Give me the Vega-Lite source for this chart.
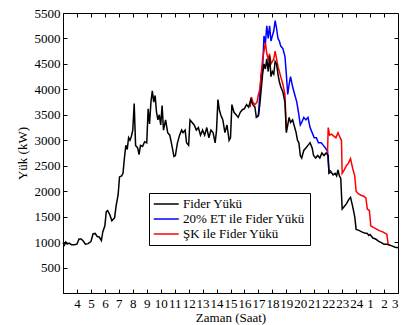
{
"$schema": "https://vega.github.io/schema/vega-lite/v6.json",
"width": 335,
"height": 280,
"autosize": "none",
"padding": {"left": 63, "top": 13, "right": 4, "bottom": 32},
"background": "white",
"config": {
  "view": {"stroke": "black", "strokeWidth": 1},
  "font": "Liberation Serif, Times New Roman, serif",
  "axis": {"labelFont": "Liberation Serif, Times New Roman, serif", "titleFont": "Liberation Serif, Times New Roman, serif", "labelFontSize": 13, "titleFontSize": 13, "labelColor": "black", "titleColor": "black", "domainColor": "black", "tickColor": "black", "grid": false, "titleFontWeight": "normal", "labelOverlap": false, "tickSize": -4, "format": "d"},
  "legend": {"labelFont": "Liberation Serif, Times New Roman, serif"}
},
"data": {"values": [
{"saat":3.0,"yuk":990,"seri":"Fider Yükü","parca":1},
{"saat":3.1,"yuk":940,"seri":"Fider Yükü","parca":1},
{"saat":3.2,"yuk":1000,"seri":"Fider Yükü","parca":1},
{"saat":3.3,"yuk":960,"seri":"Fider Yükü","parca":1},
{"saat":3.45,"yuk":980,"seri":"Fider Yükü","parca":1},
{"saat":3.6,"yuk":950,"seri":"Fider Yükü","parca":1},
{"saat":3.8,"yuk":950,"seri":"Fider Yükü","parca":1},
{"saat":4.0,"yuk":960,"seri":"Fider Yükü","parca":1},
{"saat":4.15,"yuk":1060,"seri":"Fider Yükü","parca":1},
{"saat":4.3,"yuk":1060,"seri":"Fider Yükü","parca":1},
{"saat":4.45,"yuk":1020,"seri":"Fider Yükü","parca":1},
{"saat":4.6,"yuk":960,"seri":"Fider Yükü","parca":1},
{"saat":4.8,"yuk":970,"seri":"Fider Yükü","parca":1},
{"saat":5.0,"yuk":1010,"seri":"Fider Yükü","parca":1},
{"saat":5.15,"yuk":1160,"seri":"Fider Yükü","parca":1},
{"saat":5.3,"yuk":1170,"seri":"Fider Yükü","parca":1},
{"saat":5.45,"yuk":1110,"seri":"Fider Yükü","parca":1},
{"saat":5.6,"yuk":1100,"seri":"Fider Yükü","parca":1},
{"saat":5.75,"yuk":1030,"seri":"Fider Yükü","parca":1},
{"saat":5.85,"yuk":1200,"seri":"Fider Yükü","parca":1},
{"saat":6.0,"yuk":1320,"seri":"Fider Yükü","parca":1},
{"saat":6.1,"yuk":1600,"seri":"Fider Yükü","parca":1},
{"saat":6.2,"yuk":1620,"seri":"Fider Yükü","parca":1},
{"saat":6.35,"yuk":1540,"seri":"Fider Yükü","parca":1},
{"saat":6.5,"yuk":1420,"seri":"Fider Yükü","parca":1},
{"saat":6.6,"yuk":1450,"seri":"Fider Yükü","parca":1},
{"saat":6.7,"yuk":1480,"seri":"Fider Yükü","parca":1},
{"saat":6.8,"yuk":1700,"seri":"Fider Yükü","parca":1},
{"saat":6.95,"yuk":1930,"seri":"Fider Yükü","parca":1},
{"saat":7.05,"yuk":2280,"seri":"Fider Yükü","parca":1},
{"saat":7.2,"yuk":2300,"seri":"Fider Yükü","parca":1},
{"saat":7.3,"yuk":2350,"seri":"Fider Yükü","parca":1},
{"saat":7.4,"yuk":2650,"seri":"Fider Yükü","parca":1},
{"saat":7.5,"yuk":2900,"seri":"Fider Yükü","parca":1},
{"saat":7.6,"yuk":2820,"seri":"Fider Yükü","parca":1},
{"saat":7.7,"yuk":3050,"seri":"Fider Yükü","parca":1},
{"saat":7.8,"yuk":3000,"seri":"Fider Yükü","parca":1},
{"saat":7.9,"yuk":3080,"seri":"Fider Yükü","parca":1},
{"saat":8.0,"yuk":3200,"seri":"Fider Yükü","parca":1},
{"saat":8.1,"yuk":3720,"seri":"Fider Yükü","parca":1},
{"saat":8.2,"yuk":2900,"seri":"Fider Yükü","parca":1},
{"saat":8.35,"yuk":2850,"seri":"Fider Yükü","parca":1},
{"saat":8.45,"yuk":2720,"seri":"Fider Yükü","parca":1},
{"saat":8.55,"yuk":2900,"seri":"Fider Yükü","parca":1},
{"saat":8.7,"yuk":2880,"seri":"Fider Yükü","parca":1},
{"saat":8.85,"yuk":2970,"seri":"Fider Yükü","parca":1},
{"saat":9.0,"yuk":2950,"seri":"Fider Yükü","parca":1},
{"saat":9.1,"yuk":3620,"seri":"Fider Yükü","parca":1},
{"saat":9.2,"yuk":3320,"seri":"Fider Yükü","parca":1},
{"saat":9.3,"yuk":3750,"seri":"Fider Yükü","parca":1},
{"saat":9.4,"yuk":3970,"seri":"Fider Yükü","parca":1},
{"saat":9.5,"yuk":3750,"seri":"Fider Yükü","parca":1},
{"saat":9.6,"yuk":3880,"seri":"Fider Yükü","parca":1},
{"saat":9.7,"yuk":3550,"seri":"Fider Yükü","parca":1},
{"saat":9.8,"yuk":3400,"seri":"Fider Yükü","parca":1},
{"saat":9.9,"yuk":3500,"seri":"Fider Yükü","parca":1},
{"saat":10.0,"yuk":3300,"seri":"Fider Yükü","parca":1},
{"saat":10.1,"yuk":3680,"seri":"Fider Yükü","parca":1},
{"saat":10.2,"yuk":3200,"seri":"Fider Yükü","parca":1},
{"saat":10.35,"yuk":3400,"seri":"Fider Yükü","parca":1},
{"saat":10.5,"yuk":3150,"seri":"Fider Yükü","parca":1},
{"saat":10.65,"yuk":3100,"seri":"Fider Yükü","parca":1},
{"saat":10.8,"yuk":2900,"seri":"Fider Yükü","parca":1},
{"saat":10.95,"yuk":2680,"seri":"Fider Yükü","parca":1},
{"saat":11.05,"yuk":2700,"seri":"Fider Yükü","parca":1},
{"saat":11.2,"yuk":2950,"seri":"Fider Yükü","parca":1},
{"saat":11.35,"yuk":3100,"seri":"Fider Yükü","parca":1},
{"saat":11.5,"yuk":3200,"seri":"Fider Yükü","parca":1},
{"saat":11.6,"yuk":3150,"seri":"Fider Yükü","parca":1},
{"saat":11.75,"yuk":3200,"seri":"Fider Yükü","parca":1},
{"saat":11.85,"yuk":2950,"seri":"Fider Yükü","parca":1},
{"saat":12.0,"yuk":2900,"seri":"Fider Yükü","parca":1},
{"saat":12.1,"yuk":3400,"seri":"Fider Yükü","parca":1},
{"saat":12.25,"yuk":3350,"seri":"Fider Yükü","parca":1},
{"saat":12.4,"yuk":3300,"seri":"Fider Yükü","parca":1},
{"saat":12.55,"yuk":3200,"seri":"Fider Yükü","parca":1},
{"saat":12.7,"yuk":3250,"seri":"Fider Yükü","parca":1},
{"saat":12.85,"yuk":3100,"seri":"Fider Yükü","parca":1},
{"saat":13.0,"yuk":3200,"seri":"Fider Yükü","parca":1},
{"saat":13.15,"yuk":3100,"seri":"Fider Yükü","parca":1},
{"saat":13.3,"yuk":3250,"seri":"Fider Yükü","parca":1},
{"saat":13.45,"yuk":3050,"seri":"Fider Yükü","parca":1},
{"saat":13.6,"yuk":3200,"seri":"Fider Yükü","parca":1},
{"saat":13.75,"yuk":3150,"seri":"Fider Yükü","parca":1},
{"saat":13.9,"yuk":2950,"seri":"Fider Yükü","parca":1},
{"saat":14.0,"yuk":3200,"seri":"Fider Yükü","parca":1},
{"saat":14.1,"yuk":3800,"seri":"Fider Yükü","parca":1},
{"saat":14.2,"yuk":3600,"seri":"Fider Yükü","parca":1},
{"saat":14.3,"yuk":3500,"seri":"Fider Yükü","parca":1},
{"saat":14.45,"yuk":3400,"seri":"Fider Yükü","parca":1},
{"saat":14.6,"yuk":3150,"seri":"Fider Yükü","parca":1},
{"saat":14.75,"yuk":3300,"seri":"Fider Yükü","parca":1},
{"saat":14.9,"yuk":3000,"seri":"Fider Yükü","parca":1},
{"saat":15.0,"yuk":3050,"seri":"Fider Yükü","parca":1},
{"saat":15.1,"yuk":3700,"seri":"Fider Yükü","parca":1},
{"saat":15.25,"yuk":3550,"seri":"Fider Yükü","parca":1},
{"saat":15.4,"yuk":3500,"seri":"Fider Yükü","parca":1},
{"saat":15.55,"yuk":3450,"seri":"Fider Yükü","parca":1},
{"saat":15.7,"yuk":3550,"seri":"Fider Yükü","parca":1},
{"saat":15.85,"yuk":3600,"seri":"Fider Yükü","parca":1},
{"saat":16.0,"yuk":3620,"seri":"Fider Yükü","parca":1},
{"saat":16.15,"yuk":3700,"seri":"Fider Yükü","parca":1},
{"saat":16.3,"yuk":3650,"seri":"Fider Yükü","parca":1},
{"saat":16.45,"yuk":3800,"seri":"Fider Yükü","parca":1},
{"saat":16.6,"yuk":3700,"seri":"Fider Yükü","parca":1},
{"saat":16.75,"yuk":3650,"seri":"Fider Yükü","parca":1},
{"saat":16.85,"yuk":3450,"seri":"Fider Yükü","parca":1},
{"saat":17.0,"yuk":3480,"seri":"Fider Yükü","parca":1},
{"saat":17.1,"yuk":3700,"seri":"Fider Yükü","parca":1},
{"saat":17.2,"yuk":4000,"seri":"Fider Yükü","parca":1},
{"saat":17.3,"yuk":4300,"seri":"Fider Yükü","parca":1},
{"saat":17.4,"yuk":4500,"seri":"Fider Yükü","parca":1},
{"saat":17.5,"yuk":4400,"seri":"Fider Yükü","parca":1},
{"saat":17.6,"yuk":4600,"seri":"Fider Yükü","parca":1},
{"saat":17.7,"yuk":4350,"seri":"Fider Yükü","parca":1},
{"saat":17.8,"yuk":4650,"seri":"Fider Yükü","parca":1},
{"saat":17.9,"yuk":4250,"seri":"Fider Yükü","parca":1},
{"saat":18.0,"yuk":4350,"seri":"Fider Yükü","parca":1},
{"saat":18.1,"yuk":4300,"seri":"Fider Yükü","parca":1},
{"saat":18.2,"yuk":4550,"seri":"Fider Yükü","parca":1},
{"saat":18.3,"yuk":4500,"seri":"Fider Yükü","parca":1},
{"saat":18.4,"yuk":4300,"seri":"Fider Yükü","parca":1},
{"saat":18.5,"yuk":4150,"seri":"Fider Yükü","parca":1},
{"saat":18.6,"yuk":4050,"seri":"Fider Yükü","parca":1},
{"saat":18.75,"yuk":3950,"seri":"Fider Yükü","parca":1},
{"saat":18.9,"yuk":3750,"seri":"Fider Yükü","parca":1},
{"saat":19.0,"yuk":3150,"seri":"Fider Yükü","parca":1},
{"saat":19.1,"yuk":3300,"seri":"Fider Yükü","parca":1},
{"saat":19.2,"yuk":3450,"seri":"Fider Yükü","parca":1},
{"saat":19.3,"yuk":3350,"seri":"Fider Yükü","parca":1},
{"saat":19.45,"yuk":3400,"seri":"Fider Yükü","parca":1},
{"saat":19.6,"yuk":3250,"seri":"Fider Yükü","parca":1},
{"saat":19.7,"yuk":3150,"seri":"Fider Yükü","parca":1},
{"saat":19.8,"yuk":3000,"seri":"Fider Yükü","parca":1},
{"saat":19.9,"yuk":2950,"seri":"Fider Yükü","parca":1},
{"saat":20.0,"yuk":2700,"seri":"Fider Yükü","parca":1},
{"saat":20.1,"yuk":2650,"seri":"Fider Yükü","parca":1},
{"saat":20.25,"yuk":2800,"seri":"Fider Yükü","parca":1},
{"saat":20.4,"yuk":2850,"seri":"Fider Yükü","parca":1},
{"saat":20.55,"yuk":2900,"seri":"Fider Yükü","parca":1},
{"saat":20.7,"yuk":2950,"seri":"Fider Yükü","parca":1},
{"saat":20.85,"yuk":2850,"seri":"Fider Yükü","parca":1},
{"saat":20.95,"yuk":2700,"seri":"Fider Yükü","parca":1},
{"saat":21.1,"yuk":2650,"seri":"Fider Yükü","parca":1},
{"saat":21.25,"yuk":2700,"seri":"Fider Yükü","parca":1},
{"saat":21.4,"yuk":2650,"seri":"Fider Yükü","parca":1},
{"saat":21.55,"yuk":2750,"seri":"Fider Yükü","parca":1},
{"saat":21.7,"yuk":2700,"seri":"Fider Yükü","parca":1},
{"saat":21.85,"yuk":2750,"seri":"Fider Yükü","parca":1},
{"saat":22.0,"yuk":2700,"seri":"Fider Yükü","parca":1},
{"saat":22.05,"yuk":2350,"seri":"Fider Yükü","parca":1},
{"saat":22.2,"yuk":2380,"seri":"Fider Yükü","parca":1},
{"saat":22.35,"yuk":2320,"seri":"Fider Yükü","parca":1},
{"saat":22.5,"yuk":2350,"seri":"Fider Yükü","parca":1},
{"saat":22.6,"yuk":2300,"seri":"Fider Yükü","parca":1},
{"saat":22.7,"yuk":2420,"seri":"Fider Yükü","parca":1},
{"saat":22.8,"yuk":2300,"seri":"Fider Yükü","parca":1},
{"saat":22.9,"yuk":2250,"seri":"Fider Yükü","parca":1},
{"saat":23.0,"yuk":1650,"seri":"Fider Yükü","parca":1},
{"saat":23.15,"yuk":1700,"seri":"Fider Yükü","parca":1},
{"saat":23.3,"yuk":1750,"seri":"Fider Yükü","parca":1},
{"saat":23.5,"yuk":1850,"seri":"Fider Yükü","parca":1},
{"saat":23.6,"yuk":1880,"seri":"Fider Yükü","parca":1},
{"saat":23.75,"yuk":1700,"seri":"Fider Yükü","parca":1},
{"saat":23.9,"yuk":1500,"seri":"Fider Yükü","parca":1},
{"saat":24.0,"yuk":1250,"seri":"Fider Yükü","parca":1},
{"saat":24.2,"yuk":1230,"seri":"Fider Yükü","parca":1},
{"saat":24.4,"yuk":1200,"seri":"Fider Yükü","parca":1},
{"saat":24.6,"yuk":1180,"seri":"Fider Yükü","parca":1},
{"saat":24.8,"yuk":1170,"seri":"Fider Yükü","parca":1},
{"saat":24.9,"yuk":1130,"seri":"Fider Yükü","parca":1},
{"saat":25.0,"yuk":1150,"seri":"Fider Yükü","parca":1},
{"saat":25.2,"yuk":1080,"seri":"Fider Yükü","parca":1},
{"saat":25.4,"yuk":1060,"seri":"Fider Yükü","parca":1},
{"saat":25.6,"yuk":1020,"seri":"Fider Yükü","parca":1},
{"saat":25.8,"yuk":990,"seri":"Fider Yükü","parca":1},
{"saat":26.0,"yuk":960,"seri":"Fider Yükü","parca":1},
{"saat":26.2,"yuk":960,"seri":"Fider Yükü","parca":1},
{"saat":26.4,"yuk":940,"seri":"Fider Yükü","parca":1},
{"saat":26.6,"yuk":920,"seri":"Fider Yükü","parca":1},
{"saat":26.8,"yuk":900,"seri":"Fider Yükü","parca":1},
{"saat":27.0,"yuk":890,"seri":"Fider Yükü","parca":1},
{"saat":16.9,"yuk":3460,"seri":"20% ET ile Fider Yükü","parca":1},
{"saat":17.0,"yuk":3500,"seri":"20% ET ile Fider Yükü","parca":1},
{"saat":17.1,"yuk":3900,"seri":"20% ET ile Fider Yükü","parca":1},
{"saat":17.2,"yuk":4300,"seri":"20% ET ile Fider Yükü","parca":1},
{"saat":17.3,"yuk":4400,"seri":"20% ET ile Fider Yükü","parca":1},
{"saat":17.4,"yuk":5050,"seri":"20% ET ile Fider Yükü","parca":1},
{"saat":17.5,"yuk":4900,"seri":"20% ET ile Fider Yükü","parca":1},
{"saat":17.6,"yuk":5250,"seri":"20% ET ile Fider Yükü","parca":1},
{"saat":17.7,"yuk":5000,"seri":"20% ET ile Fider Yükü","parca":1},
{"saat":17.8,"yuk":5250,"seri":"20% ET ile Fider Yükü","parca":1},
{"saat":17.9,"yuk":4950,"seri":"20% ET ile Fider Yükü","parca":1},
{"saat":18.0,"yuk":5050,"seri":"20% ET ile Fider Yükü","parca":1},
{"saat":18.1,"yuk":5150,"seri":"20% ET ile Fider Yükü","parca":1},
{"saat":18.2,"yuk":5350,"seri":"20% ET ile Fider Yükü","parca":1},
{"saat":18.3,"yuk":5200,"seri":"20% ET ile Fider Yükü","parca":1},
{"saat":18.4,"yuk":5000,"seri":"20% ET ile Fider Yükü","parca":1},
{"saat":18.5,"yuk":4950,"seri":"20% ET ile Fider Yükü","parca":1},
{"saat":18.6,"yuk":4850,"seri":"20% ET ile Fider Yükü","parca":1},
{"saat":18.75,"yuk":4800,"seri":"20% ET ile Fider Yükü","parca":1},
{"saat":18.9,"yuk":4650,"seri":"20% ET ile Fider Yükü","parca":1},
{"saat":19.0,"yuk":4300,"seri":"20% ET ile Fider Yükü","parca":1},
{"saat":19.1,"yuk":3900,"seri":"20% ET ile Fider Yükü","parca":1},
{"saat":19.2,"yuk":4100,"seri":"20% ET ile Fider Yükü","parca":1},
{"saat":19.3,"yuk":4250,"seri":"20% ET ile Fider Yükü","parca":1},
{"saat":19.45,"yuk":4050,"seri":"20% ET ile Fider Yükü","parca":1},
{"saat":19.6,"yuk":3900,"seri":"20% ET ile Fider Yükü","parca":1},
{"saat":19.75,"yuk":3750,"seri":"20% ET ile Fider Yükü","parca":1},
{"saat":19.9,"yuk":3500,"seri":"20% ET ile Fider Yükü","parca":1},
{"saat":20.0,"yuk":3300,"seri":"20% ET ile Fider Yükü","parca":1},
{"saat":20.1,"yuk":3350,"seri":"20% ET ile Fider Yükü","parca":1},
{"saat":20.25,"yuk":3450,"seri":"20% ET ile Fider Yükü","parca":1},
{"saat":20.4,"yuk":3400,"seri":"20% ET ile Fider Yükü","parca":1},
{"saat":20.55,"yuk":3450,"seri":"20% ET ile Fider Yükü","parca":1},
{"saat":20.7,"yuk":3250,"seri":"20% ET ile Fider Yükü","parca":1},
{"saat":20.85,"yuk":3150,"seri":"20% ET ile Fider Yükü","parca":1},
{"saat":21.0,"yuk":3050,"seri":"20% ET ile Fider Yükü","parca":1},
{"saat":21.15,"yuk":3050,"seri":"20% ET ile Fider Yükü","parca":1},
{"saat":21.3,"yuk":2950,"seri":"20% ET ile Fider Yükü","parca":1},
{"saat":21.5,"yuk":2950,"seri":"20% ET ile Fider Yükü","parca":1},
{"saat":21.65,"yuk":2900,"seri":"20% ET ile Fider Yükü","parca":1},
{"saat":21.8,"yuk":2850,"seri":"20% ET ile Fider Yükü","parca":1},
{"saat":21.95,"yuk":2780,"seri":"20% ET ile Fider Yükü","parca":1},
{"saat":22.05,"yuk":2400,"seri":"20% ET ile Fider Yükü","parca":1},
{"saat":22.2,"yuk":2400,"seri":"20% ET ile Fider Yükü","parca":1},
{"saat":16.4,"yuk":3650,"seri":"ŞK ile Fider Yükü","parca":1},
{"saat":16.5,"yuk":3850,"seri":"ŞK ile Fider Yükü","parca":1},
{"saat":16.6,"yuk":3750,"seri":"ŞK ile Fider Yükü","parca":1},
{"saat":16.75,"yuk":3700,"seri":"ŞK ile Fider Yükü","parca":1},
{"saat":16.9,"yuk":3750,"seri":"ŞK ile Fider Yükü","parca":1},
{"saat":17.0,"yuk":3900,"seri":"ŞK ile Fider Yükü","parca":1},
{"saat":17.1,"yuk":4000,"seri":"ŞK ile Fider Yükü","parca":1},
{"saat":17.2,"yuk":4300,"seri":"ŞK ile Fider Yükü","parca":1},
{"saat":17.3,"yuk":4600,"seri":"ŞK ile Fider Yükü","parca":1},
{"saat":17.4,"yuk":4750,"seri":"ŞK ile Fider Yükü","parca":1},
{"saat":17.5,"yuk":4920,"seri":"ŞK ile Fider Yükü","parca":1},
{"saat":17.6,"yuk":4700,"seri":"ŞK ile Fider Yükü","parca":1},
{"saat":17.7,"yuk":4600,"seri":"ŞK ile Fider Yükü","parca":1},
{"saat":17.8,"yuk":4700,"seri":"ŞK ile Fider Yükü","parca":1},
{"saat":17.9,"yuk":4500,"seri":"ŞK ile Fider Yükü","parca":1},
{"saat":18.0,"yuk":4550,"seri":"ŞK ile Fider Yükü","parca":1},
{"saat":18.1,"yuk":4600,"seri":"ŞK ile Fider Yükü","parca":1},
{"saat":18.2,"yuk":4750,"seri":"ŞK ile Fider Yükü","parca":1},
{"saat":18.3,"yuk":4600,"seri":"ŞK ile Fider Yükü","parca":1},
{"saat":18.4,"yuk":4450,"seri":"ŞK ile Fider Yükü","parca":1},
{"saat":18.5,"yuk":4350,"seri":"ŞK ile Fider Yükü","parca":1},
{"saat":18.6,"yuk":4250,"seri":"ŞK ile Fider Yükü","parca":1},
{"saat":18.75,"yuk":4100,"seri":"ŞK ile Fider Yükü","parca":1},
{"saat":18.9,"yuk":3900,"seri":"ŞK ile Fider Yükü","parca":1},
{"saat":19.0,"yuk":3200,"seri":"ŞK ile Fider Yükü","parca":1},
{"saat":21.95,"yuk":2750,"seri":"ŞK ile Fider Yükü","parca":2},
{"saat":22.0,"yuk":3250,"seri":"ŞK ile Fider Yükü","parca":2},
{"saat":22.1,"yuk":3100,"seri":"ŞK ile Fider Yükü","parca":2},
{"saat":22.25,"yuk":3120,"seri":"ŞK ile Fider Yükü","parca":2},
{"saat":22.4,"yuk":3080,"seri":"ŞK ile Fider Yükü","parca":2},
{"saat":22.55,"yuk":3050,"seri":"ŞK ile Fider Yükü","parca":2},
{"saat":22.7,"yuk":3150,"seri":"ŞK ile Fider Yükü","parca":2},
{"saat":22.85,"yuk":3050,"seri":"ŞK ile Fider Yükü","parca":2},
{"saat":22.95,"yuk":3000,"seri":"ŞK ile Fider Yükü","parca":2},
{"saat":23.0,"yuk":2350,"seri":"ŞK ile Fider Yükü","parca":2},
{"saat":23.15,"yuk":2420,"seri":"ŞK ile Fider Yükü","parca":2},
{"saat":23.3,"yuk":2500,"seri":"ŞK ile Fider Yükü","parca":2},
{"saat":23.45,"yuk":2550,"seri":"ŞK ile Fider Yükü","parca":2},
{"saat":23.6,"yuk":2640,"seri":"ŞK ile Fider Yükü","parca":2},
{"saat":23.75,"yuk":2450,"seri":"ŞK ile Fider Yükü","parca":2},
{"saat":23.9,"yuk":2300,"seri":"ŞK ile Fider Yükü","parca":2},
{"saat":24.0,"yuk":2000,"seri":"ŞK ile Fider Yükü","parca":2},
{"saat":24.15,"yuk":1950,"seri":"ŞK ile Fider Yükü","parca":2},
{"saat":24.35,"yuk":1920,"seri":"ŞK ile Fider Yükü","parca":2},
{"saat":24.55,"yuk":1900,"seri":"ŞK ile Fider Yükü","parca":2},
{"saat":24.7,"yuk":1870,"seri":"ŞK ile Fider Yükü","parca":2},
{"saat":24.8,"yuk":1650,"seri":"ŞK ile Fider Yükü","parca":2},
{"saat":24.95,"yuk":1620,"seri":"ŞK ile Fider Yükü","parca":2},
{"saat":25.05,"yuk":1320,"seri":"ŞK ile Fider Yükü","parca":2},
{"saat":25.3,"yuk":1280,"seri":"ŞK ile Fider Yükü","parca":2},
{"saat":25.5,"yuk":1250,"seri":"ŞK ile Fider Yükü","parca":2},
{"saat":25.7,"yuk":1220,"seri":"ŞK ile Fider Yükü","parca":2},
{"saat":25.9,"yuk":1200,"seri":"ŞK ile Fider Yükü","parca":2},
{"saat":26.1,"yuk":1170,"seri":"ŞK ile Fider Yükü","parca":2},
{"saat":26.2,"yuk":1150,"seri":"ŞK ile Fider Yükü","parca":2},
{"saat":26.3,"yuk":950,"seri":"ŞK ile Fider Yükü","parca":2},
{"saat":26.45,"yuk":940,"seri":"ŞK ile Fider Yükü","parca":2}
]},
"layer": [
  {
    "transform": [{"filter": "datum.seri == '20% ET ile Fider Yükü'"}],
    "mark": {"type": "line", "strokeWidth": 1.5},
    "encoding": {
      "x": {"field": "saat", "type": "quantitative", "axis": null},
      "y": {"field": "yuk", "type": "quantitative", "axis": null},
      "color": {"field": "seri", "type": "nominal"}
    }
  },
  {
    "transform": [{"filter": "datum.seri == 'ŞK ile Fider Yükü'"}],
    "mark": {"type": "line", "strokeWidth": 1.5},
    "encoding": {
      "x": {"field": "saat", "type": "quantitative", "axis": null},
      "y": {"field": "yuk", "type": "quantitative", "axis": null},
      "color": {"field": "seri", "type": "nominal"},
      "detail": {"field": "parca", "type": "nominal"}
    }
  },
  {
    "transform": [{"filter": "datum.seri == 'Fider Yükü'"}],
    "mark": {"type": "line", "strokeWidth": 1.5},
    "encoding": {
      "x": {"field": "saat", "type": "quantitative",
        "scale": {"domain": [3, 27], "nice": false},
        "axis": {"orient": "bottom", "title": "Zaman (Saat)", "values": [4,5,6,7,8,9,10,11,12,13,14,15,16,17,18,19,20,21,22,23,24,25,26,27], "labelExpr": "datum.value > 24 ? datum.value - 24 : datum.value", "labelPadding": 8, "titlePadding": 1}},
      "y": {"field": "yuk", "type": "quantitative",
        "scale": {"domain": [500, 5500], "nice": false},
        "axis": {"orient": "left", "title": "Yük (kW)", "values": [500,1000,1500,2000,2500,3000,3500,4000,4500,5000,5500], "labelPadding": 7, "titlePadding": 5}},
      "color": {"field": "seri", "type": "nominal",
        "scale": {"domain": ["Fider Yükü", "20% ET ile Fider Yükü", "ŞK ile Fider Yükü"], "range": ["#000000", "#0000ff", "#ff0000"]},
        "legend": {"title": null, "orient": "none", "legendX": 86, "legendY": 180, "symbolType": "M-1,0H3", "symbolSize": 156, "symbolStrokeWidth": 1.5, "labelFont": "Liberation Serif, Times New Roman, serif", "labelFontSize": 13, "labelColor": "black", "labelLimit": 300, "strokeColor": "black", "fillColor": "white", "padding": 4, "rowPadding": 1, "labelOffset": 16}}
    }
  },
  {
    "transform": [{"filter": "datum.seri == 'Fider Yükü'"}],
    "mark": {"type": "line", "opacity": 0},
    "encoding": {
      "x": {"field": "saat", "type": "quantitative",
        "axis": {"orient": "top", "title": null, "labels": false, "domain": false, "values": [4,5,6,7,8,9,10,11,12,13,14,15,16,17,18,19,20,21,22,23,24,25,26]}},
      "y": {"field": "yuk", "type": "quantitative",
        "axis": {"orient": "right", "title": null, "labels": false, "domain": false, "values": [1000,1500,2000,2500,3000,3500,4000,4500,5000]}}
    }
  }
],
"resolve": {"axis": {"x": "independent", "y": "independent"}}
}
